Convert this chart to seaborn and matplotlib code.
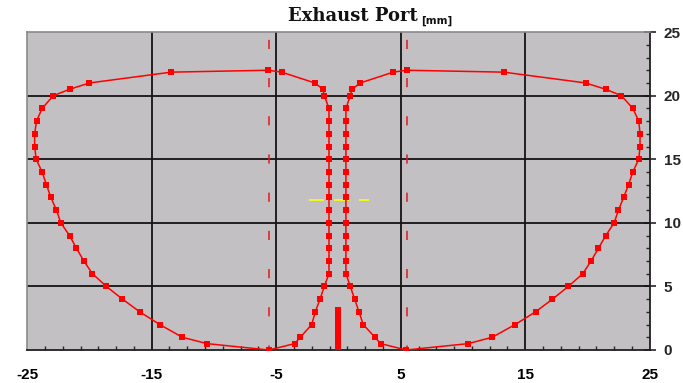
import numpy as np
import matplotlib
matplotlib.use("Agg")
import matplotlib.pyplot as plt
from matplotlib.ticker import FixedLocator, MultipleLocator
import seaborn as sns

# contour of the left window (closed loop)
left_x = [-5.63, -13.44, -20.0, -21.6, -22.9, -23.8, -24.25, -24.4, -24.4, -24.28,
          -23.8, -23.45, -23.1, -22.65, -22.3, -21.6, -21.04, -20.45, -19.76, -18.64,
          -17.35, -15.96, -14.35, -12.54, -10.55, -5.6,
          -3.52, -3.06, -2.15, -1.86, -1.48, -1.14,
          -0.76, -0.76, -0.76, -0.76, -0.76, -0.76, -0.76, -0.76, -0.76, -0.76,
          -0.76, -0.76, -0.76, -0.76,
          -1.14, -1.24, -1.9, -4.56, -5.63]
left_y = [22.0, 21.85, 21.0, 20.5, 20.0, 19, 18, 17, 16, 15,
          14, 13, 12, 11, 10, 9, 8, 7, 6, 5,
          4, 3, 2, 1, 0.5, 0.0,
          0.5, 1, 2, 3, 4, 5,
          6, 7, 8, 9, 10, 11, 12, 13, 14, 15,
          16, 17, 18, 19,
          20.0, 20.5, 21.0, 21.85, 22.0]

# contour of the right window
right_x = [5.47, 13.28, 19.86, 21.47, 22.73, 23.64, 24.12, 24.22, 24.22, 24.12,
           23.64, 23.3, 22.9, 22.49, 22.14, 21.47, 20.88, 20.29, 19.62, 18.47,
           17.19, 15.83, 14.19, 12.35, 10.42, 5.44,
           3.39, 2.93, 1.99, 1.65, 1.3, 0.95,
           0.6, 0.6, 0.6, 0.6, 0.6, 0.6, 0.6, 0.6, 0.6, 0.6,
           0.6, 0.6, 0.6, 0.6,
           0.95, 1.08, 1.75, 4.4, 5.47]
right_y = left_y

# port limits (dashed), bridge bar and yellow marker line
limit_x = [-5.6, 5.5]
bar_x = [-0.05]
bar_h = [3.4]
yellow_x = [-2.35, 2.47]
yellow_y = [11.8, 11.8]

x_ticks = [-25, -15, -5, 5, 15, 25]
y_ticks = [0, 5, 10, 15, 20, 25]

sns.set_style("white")
plt.rcParams['font.family'] = ['Liberation Sans', 'DejaVu Sans']
plt.rcParams['axes.unicode_minus'] = False

fig = plt.figure(figsize=(6.83, 3.83), dpi=100)
ax = fig.add_axes([0.0398, 0.0862, 0.9115, 0.830])
ax.set_facecolor('#c3c0c3')

# grid
for gx in [-15, -5, 5, 15]:
    ax.axvline(gx, color='#141414', lw=1.3, zorder=1)
for gy in [5, 10, 15, 20]:
    ax.axhline(gy, color='#141414', lw=1.3, zorder=1)

for lx in limit_x:
    ax.plot([lx, lx], [0, 25], color='#e8141c', lw=1.1, ls=(3, (6, 19)), zorder=2)

ax.plot(yellow_x, yellow_y, color='#ffff00', lw=1.2, ls=(0, (9, 6)), zorder=2)

ax.bar(bar_x, bar_h, width=0.45, color='#ff0000', edgecolor='none', linewidth=0, zorder=3)

for xs, ys in [(left_x, left_y), (right_x, right_y)]:
    sns.lineplot(x=xs, y=ys, sort=False, estimator=None, ax=ax, color='#ff0000',
                 lw=1.1, marker='s', markersize=4.5, markeredgewidth=0, zorder=4)

ax.set_xlim(-25, 25)
ax.set_ylim(0, 25)
ax.set_xticks(x_ticks)
ax.set_yticks(y_ticks)
ax.xaxis.set_minor_locator(FixedLocator(np.linspace(-25, 25, 36)))
ax.yaxis.set_minor_locator(MultipleLocator(1))
ax.yaxis.tick_right()

ax.tick_params(axis='x', which='major', direction='out', length=5, width=1.2,
               colors='black', pad=8, labelsize=11)
ax.tick_params(axis='x', which='minor', direction='in', length=3, width=1, bottom=True)
ax.tick_params(axis='y', which='major', direction='inout', length=8, width=1.2,
               pad=6, labelsize=11, right=True, left=False)
ax.tick_params(axis='y', which='minor', direction='in', length=3, width=1, right=True, left=False)
for lab in ax.get_xticklabels() + ax.get_yticklabels():
    lab.set_fontweight('bold')

for side in ['top', 'left']:
    ax.spines[side].set_color('#8a8a8a')
    ax.spines[side].set_linewidth(1.2)
for side in ['bottom', 'right']:
    ax.spines[side].set_color('#202020')
    ax.spines[side].set_linewidth(1.3)

fig.text(0.612, 0.945, 'Exhaust Port', ha='right', va='baseline', color='#111111',
         family='DejaVu Serif', fontweight='bold', fontsize=13)
fig.text(0.617, 0.938, '[mm]', ha='left', va='baseline', color='#111111',
         family='DejaVu Sans', fontweight='bold', fontsize=7.5)

fig.savefig('out.png', dpi=100, facecolor='white')
